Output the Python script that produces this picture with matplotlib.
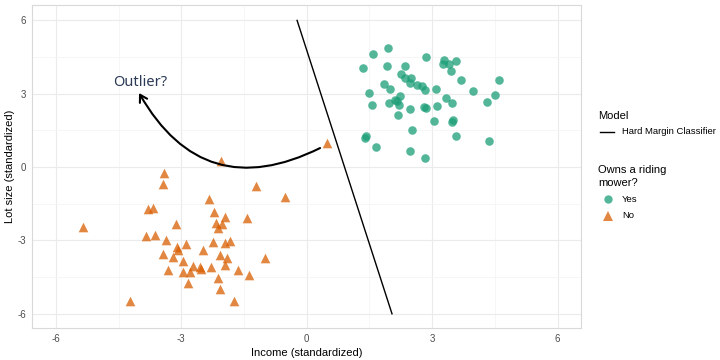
import matplotlib
matplotlib.use("Agg")
import matplotlib.pyplot as plt
from matplotlib.lines import Line2D

plt.rcParams['axes.unicode_minus'] = False
plt.rcParams['font.family'] = ['Liberation Sans', 'DejaVu Sans']

# Owners (Yes)
yes_x = [1.95, 1.59, 1.35, 1.91, 2.36, 2.85, 3.28, 3.57, 3.27, 3.40, 3.46, 2.26, 2.50,
         2.35, 3.69, 4.61, 1.86, 2.48, 2.63, 2.76, 2.83, 3.09, 2.00, 1.48, 3.97, 4.51,
         2.22, 3.32, 2.12, 2.17, 1.97, 2.20, 1.56, 3.48, 4.30, 2.46, 2.81, 2.86, 3.12,
         2.19, 3.05, 3.51, 3.48, 2.53, 1.42, 1.40, 3.56, 4.35, 1.65, 2.48, 2.82]
yes_y = [4.88, 4.64, 4.07, 4.13, 4.13, 4.50, 4.39, 4.36, 4.20, 4.20, 3.94, 3.82, 3.66,
         3.64, 3.57, 3.55, 3.41, 3.44, 3.37, 3.31, 3.14, 3.21, 3.18, 3.04, 3.12, 2.96,
         2.89, 2.82, 2.76, 2.70, 2.63, 2.55, 2.55, 2.62, 2.65, 2.39, 2.45, 2.41, 2.51,
         2.13, 1.90, 1.91, 1.83, 1.50, 1.28, 1.21, 1.26, 1.05, 0.83, 0.65, 0.38]

# Non-owners (No)
no_x = [-2.05, -3.41, -3.43, -1.21, -0.51, -2.33, -3.80, -3.68, -2.21, -1.96, -1.42, -5.34,
        -3.12, -2.16, -2.02, -2.11, -3.84, -3.63, -3.37, -2.24, -2.89, -1.96, -1.84, -3.10,
        -3.07, -2.47, -3.43, -3.19, -2.07, -1.91, -1.00, -2.96, -1.95, -2.73, -2.56, -2.54,
        -2.28, -3.32, -1.65, -2.96, -2.80, -1.37, -2.11, -2.84, -2.08, -4.22, -1.74, 0.49]
no_y = [0.25, -0.26, -0.71, -0.79, -1.24, -1.30, -1.71, -1.69, -1.85, -2.06, -2.07, -2.45,
        -2.32, -2.28, -2.34, -2.48, -2.83, -2.79, -2.97, -3.08, -3.14, -3.12, -3.04, -3.28,
        -3.37, -3.41, -3.55, -3.67, -3.61, -3.71, -3.73, -3.82, -4.01, -4.05, -4.08, -4.16,
        -4.10, -4.22, -4.21, -4.31, -4.31, -4.43, -4.55, -4.74, -4.98, -5.49, -5.47, 0.99]

# Hard margin classifier line
line_x = [-0.23, 2.04]
line_y = [6.0, -6.0]

# Annotation
outlier_text = "Outlier?"
text_pos = (-3.98, 3.45)
arrow_start = (0.32, 0.78)
arrow_tip = (-4.01, 3.03)

ticks = [-6, -3, 0, 3, 6]
minor_ticks = [-4.5, -1.5, 1.5, 4.5]

green = '#1b9e77'
orange = '#d95f02'

fig = plt.figure(figsize=(7.2, 3.6), dpi=100)
ax = fig.add_axes([32/720, 1-328/360, (581-32)/720, (328-5)/360])

ax.set_xlim(-6.57, 6.56)
ax.set_ylim(-6.58, 6.63)
ax.set_xticks(ticks)
ax.set_yticks(ticks)
ax.set_xticks(minor_ticks, minor=True)
ax.set_yticks(minor_ticks, minor=True)
ax.set_xticklabels([str(t) for t in ticks])
ax.set_yticklabels([str(t) for t in ticks])
ax.grid(True, which='major', color='#ebebeb', lw=0.8)
ax.grid(True, which='minor', color='#f5f5f5', lw=0.6)
ax.set_axisbelow(True)
ax.tick_params(which='both', length=0, labelsize=7, labelcolor='#4d4d4d', pad=4)
for s in ax.spines.values():
    s.set_color('#d9d9d9')
    s.set_linewidth(0.8)

ax.plot(line_x, line_y, color='black', lw=1.0, zorder=2)
ax.scatter(yes_x, yes_y, s=38, marker='o', color=green, alpha=0.75, lw=0, zorder=3)
ax.scatter(no_x, no_y, s=48, marker='^', color=orange, alpha=0.75, lw=0, zorder=3)

ax.annotate("", xy=arrow_tip, xytext=arrow_start,
            arrowprops=dict(arrowstyle="->,head_length=0.5,head_width=0.3", color='black', lw=1.5,
                            connectionstyle="arc3,rad=-0.47", shrinkA=0, shrinkB=0),
            zorder=4)
ax.text(text_pos[0], text_pos[1], outlier_text, ha='center', va='center',
        fontsize=10.5, color='#2b3a55', family=['Noto Sans', 'DejaVu Sans'])

ax.set_xlabel("Income (standardized)", fontsize=8, labelpad=3)
ax.set_ylabel("Lot size (standardized)", fontsize=8, labelpad=2)

# Legends (manual)
fig.text(598/720, 1-116/360, "Model", fontsize=8, va='center', ha='left')
fig.add_artist(Line2D([600/720, 614/720], [1-132/360, 1-132/360], color='black', lw=1.0))
fig.text(622/720, 1-132/360, "Hard Margin Classifier", fontsize=6.8, va='center', ha='left')

fig.text(598/720, 1-170/360, "Owns a riding", fontsize=8, va='center', ha='left')
fig.text(598/720, 1-183/360, "mower?", fontsize=8, va='center', ha='left')
fig.add_artist(Line2D([608/720], [1-199/360], marker='o', markersize=6, color=green,
                      alpha=0.75, markeredgewidth=0, lw=0))
fig.text(622/720, 1-199/360, "Yes", fontsize=6.8, va='center', ha='left')
fig.add_artist(Line2D([608/720], [1-216/360], marker='^', markersize=7, color=orange,
                      alpha=0.75, markeredgewidth=0, lw=0))
fig.text(622/720, 1-216/360, "No", fontsize=6.8, va='center', ha='left')

fig.savefig("out.png", dpi=100, facecolor='white')
